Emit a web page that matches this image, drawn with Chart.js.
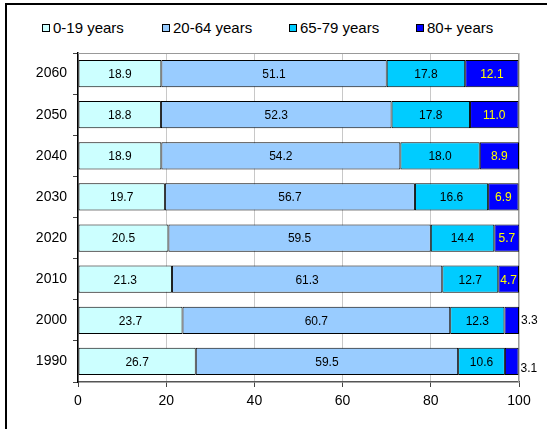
<!DOCTYPE html>
<html>
<head>
<meta charset="utf-8">
<script src="https://cdn.jsdelivr.net/npm/chart.js@4"></script>
<style>
  html, body { margin: 0; padding: 0; background: #fff; }
  body { width: 548px; height: 429px; position: relative; overflow: hidden; font-family: "Liberation Sans", Arial, sans-serif; }
  #frame { position: absolute; left: 5px; top: 3px; width: 540px; height: 440px; border-top: 2px solid #000; border-left: 2px solid #000; }
  #legend { position: absolute; left: 0; top: 19px; width: 548px; height: 20px; font-size: 15px; color: #000; }
  #legend span.item { position: absolute; top: 0; display: flex; align-items: center; white-space: nowrap; }
  #legend span.box { width: 6px; height: 6px; border: 1px solid #000; margin-right: 3px; display: inline-block; }
  #wrap { position: absolute; left: 0; top: 0; width: 548px; height: 429px; }
</style>
</head>
<body>
<div id="frame"></div>
<div id="legend"></div>
<div id="wrap"><canvas id="grafico"></canvas></div>
<script>
// datos
const anios = ['2060', '2050', '2040', '2030', '2020', '2010', '2000', '1990'];
const grupos = ['0-19 years', '20-64 years', '65-79 years', '80+ years'];
const jovenes = [18.9, 18.8, 18.9, 19.7, 20.5, 21.3, 23.7, 26.7];
const adultos = [51.1, 52.3, 54.2, 56.7, 59.5, 61.3, 60.7, 59.5];
const mayores = [17.8, 17.8, 18.0, 16.6, 14.4, 12.7, 12.3, 10.6];
const ancianos = [12.1, 11.0, 8.9, 6.9, 5.7, 4.7, 3.3, 3.1];
const ticksX = [0, 20, 40, 60, 80, 100];

const colores = ['#ccffff', '#99ccff', '#00ccff', '#0000ff'];
const series = [jovenes, adultos, mayores, ancianos];

// leyenda en html
const leyenda = document.getElementById('legend');
const posLeyenda = [42, 162, 289, 416];
grupos.forEach((g, i) => {
  const item = document.createElement('span');
  item.className = 'item';
  item.style.left = posLeyenda[i] + 'px';
  item.innerHTML = `<span class="box" style="background:${colores[i]}"></span>${g}`;
  leyenda.appendChild(item);
});

// etiquetas de valores dentro de las barras
const etiquetas = {
  id: 'etiquetas',
  afterDatasetsDraw(chart) {
    const ctx = chart.ctx;
    ctx.save();
    ctx.font = '12px "Liberation Sans", Arial, sans-serif';
    ctx.textBaseline = 'middle';
    chart.data.datasets.forEach((ds, i) => {
      const meta = chart.getDatasetMeta(i);
      meta.data.forEach((bar, j) => {
        const v = ds.data[j];
        const txt = v.toFixed(1);
        if (i === 3 && v < 4) {
          ctx.fillStyle = '#000';
          ctx.textAlign = 'left';
          ctx.fillText(txt, bar.x + 2, bar.y + (j === 7 ? 7 : 0));
        } else {
          ctx.fillStyle = i === 3 ? '#ffff00' : '#000';
          ctx.textAlign = 'center';
          ctx.fillText(txt, (bar.x + bar.base) / 2, bar.y + 1);
        }
      });
    });
    ctx.restore();
  }
};

// borde gris del area del grafico
const bordeArea = {
  id: 'bordeArea',
  beforeDatasetsDraw(chart) {
    const { ctx, chartArea: a } = chart;
    ctx.save();
    ctx.strokeStyle = '#999';
    ctx.lineWidth = 1;
    ctx.beginPath();
    ctx.moveTo(a.left, a.top + 0.5);
    ctx.lineTo(a.right - 0.5, a.top + 0.5);
    ctx.lineTo(a.right - 0.5, a.bottom);
    ctx.stroke();
    ctx.restore();
  }
};

new Chart(document.getElementById('grafico').getContext('2d'), {
  type: 'bar',
  data: {
    labels: anios,
    datasets: series.map((d, i) => ({
      label: grupos[i],
      data: d,
      backgroundColor: colores[i],
      borderColor: '#000',
      borderWidth: 1,
      borderSkipped: false,
      barPercentage: 0.66,
      categoryPercentage: 1
    }))
  },
  options: {
    indexAxis: 'y',
    responsive: true,
    maintainAspectRatio: false,
    animation: false,
    layout: { padding: { left: 0, top: 53, right: 29, bottom: 0 } },
    plugins: { legend: { display: false }, tooltip: { enabled: false } },
    scales: {
      x: {
        stacked: true,
        min: 0, max: 100,
        afterBuildTicks: s => { s.ticks = ticksX.map(v => ({ value: v })); },
        afterFit: s => { s.height = 47; },
        ticks: { color: '#000', font: { size: 14, family: '"Liberation Sans", Arial, sans-serif' }, padding: 6 },
        grid: { color: '#c8c8c8', tickColor: '#444', tickLength: 5, lineWidth: 1 },
        border: { color: '#555', width: 1.5 }
      },
      y: {
        stacked: true,
        afterFit: s => { s.width = 78; },
        ticks: { color: '#000', font: { size: 14, family: '"Liberation Sans", Arial, sans-serif' }, padding: 6 },
        grid: { drawOnChartArea: false, tickColor: '#444', tickLength: 5, offset: true },
        border: { color: '#000', width: 1.5 }
      }
    }
  },
  plugins: [bordeArea, etiquetas]
});
</script>
</body>
</html>
